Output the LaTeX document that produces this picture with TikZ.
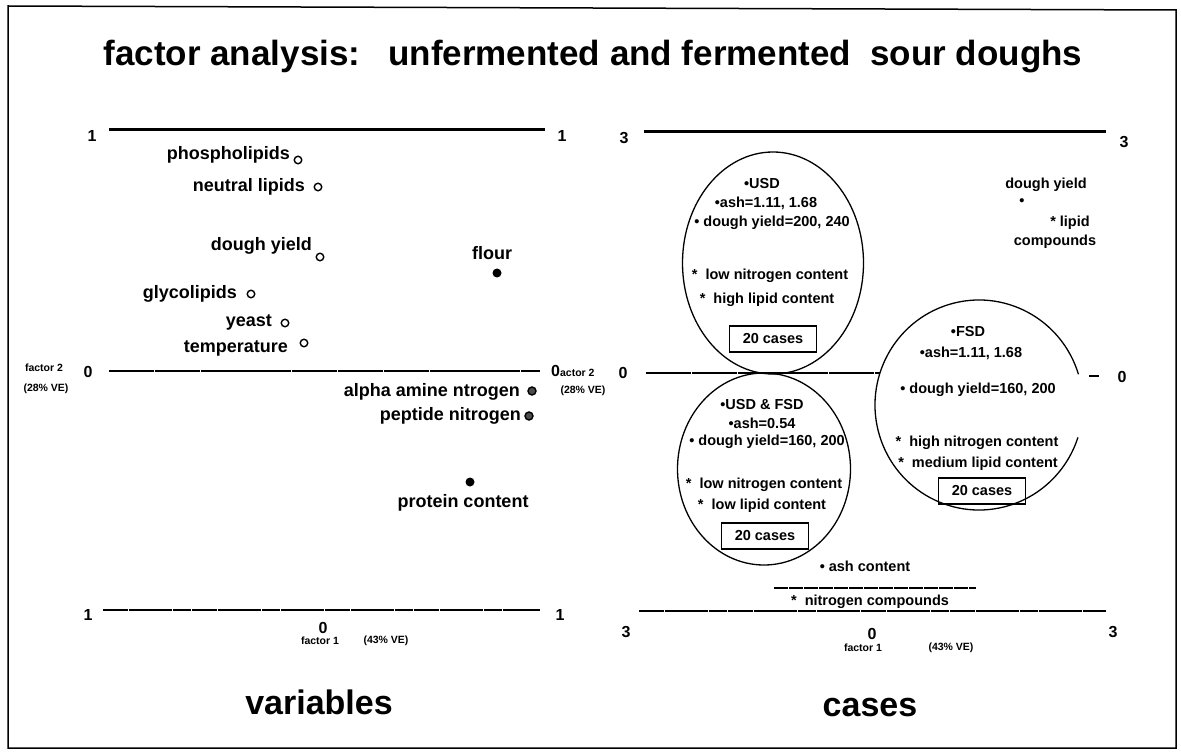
\documentclass[tikz,border=0pt]{standalone}
\usepackage{fontspec}
\setmainfont{Liberation Sans}
\usetikzlibrary{shapes.geometric}
\begin{document}
\begin{tikzpicture}[x=1pt,y=-1pt,
  lbl/.style={font=\fontsize{18}{20}\selectfont\bfseries, inner sep=0pt},
  etxt/.style={font=\fontsize{14.5}{16}\selectfont\bfseries, inner sep=0pt},
  tinylbl/.style={font=\fontsize{10.5}{12}\selectfont\bfseries, inner sep=0pt},
  num/.style={font=\fontsize{16}{18}\selectfont\bfseries, inner sep=0pt},
  bigtxt/.style={font=\fontsize{34}{38}\selectfont\bfseries, inner sep=0pt},
  odot/.style={circle, draw, line width=1.4pt, minimum size=7.5pt, inner sep=0pt},
  fdot/.style={circle, fill, minimum size=9pt, inner sep=0pt},
  rdot/.style={circle, draw, fill=black!70, line width=1.4pt, minimum size=8pt, inner sep=0pt},
  axtop/.style={line width=3pt},
  axmid/.style={line width=2pt, dash pattern=on 45pt off 0.8pt},
  axlow/.style={line width=1.8pt, dash pattern=on 25pt off 0.8pt on 18pt off 0.6pt},
  oval/.style={ellipse, draw, line width=1.3pt, inner sep=0pt},
  cbox/.style={draw, line width=1.2pt, minimum width=87pt, minimum height=26pt,
               font=\fontsize{14.5}{16}\selectfont\bfseries, inner sep=0pt},
  frameline/.style={line width=1.5pt}
]
\useasboundingbox (0,0) rectangle (1181,754);
% frame
\coordinate (F1) at (8,6);
\coordinate (F2) at (1176,10);
\coordinate (F3) at (1176,748);
\coordinate (F4) at (8,748);
\draw[frameline] (F1) -- (F2) -- (F3) -- (F4) -- cycle;

% title
\node[font=\fontsize{35}{40}\selectfont\bfseries, inner sep=0pt] (title) at (593,57)
  {factor analysis:\hspace{0.8em}unfermented and fermented\hspace{0.55em}sour doughs};

% ===== left panel =====
\coordinate (LT1) at (109,130); \coordinate (LT2) at (545,130);
\coordinate (LM1) at (109,371); \coordinate (LM2) at (540,371);
\coordinate (LB1) at (103,610); \coordinate (LB2) at (540,610);
\draw[axtop] (LT1) -- (LT2);
\draw[axmid] (LM1) -- (LM2);
\draw[axlow] (LB1) -- (LB2);
\node[num] (l1a) at (92,136) {1};
\node[num] (l1b) at (562,136) {1};
\node[num] (l1c) at (88,615) {1};
\node[num] (l1d) at (560,615) {1};
\node[num] (l0a) at (88,372) {0};
\node[tinylbl] (lf2) at (44,368) {factor 2};
\node[tinylbl] (lve2) at (46,389) {(28\% VE)};
\node[num] (l0b) at (323,628) {0};
\node[tinylbl] (lf1) at (320,641) {factor 1};
\node[tinylbl] (lve1) at (386,641) {(43\% VE)};

\node[lbl, anchor=east] (phos) at (290,155) {phospholipids};
\node[odot] (phosD) at (298,160) {};
\node[lbl, anchor=east] (neut) at (305,187) {neutral lipids};
\node[odot] (neutD) at (318,187) {};
\node[lbl, anchor=east] (dyl) at (312,246) {dough yield};
\node[odot] (dylD) at (320,257) {};
\node[lbl] (flour) at (492,253) {flour};
\node[fdot] (flourD) at (497,273) {};
\node[lbl, anchor=east] (glyc) at (237,294) {glycolipids};
\node[odot] (glycD) at (251,294) {};
\node[lbl, anchor=east] (yeast) at (272,322) {yeast};
\node[odot] (yeastD) at (285,323) {};
\node[lbl, anchor=east] (temp) at (288,348) {temperature};
\node[odot] (tempD) at (304,343) {};
\node[lbl, anchor=east] (alpha) at (520,392) {alpha amine ntrogen};
\node[rdot] (alphaD) at (532,391) {};
\node[lbl, anchor=east] (pept) at (521,416) {peptide nitrogen};
\node[rdot] (peptD) at (529,416) {};
\node[fdot] (protD) at (470,482) {};
\node[lbl] (prot) at (463,503) {protein content};
\node[bigtxt] (vars) at (319,702) {variables};

% ===== right panel =====
\coordinate (RT1) at (644,132); \coordinate (RT2) at (1106,132);
\coordinate (RM1) at (646,373); \coordinate (RM2) at (880,373);
\coordinate (RD1) at (1089,376); \coordinate (RD2) at (1099,376);
\coordinate (RB1) at (639,611); \coordinate (RB2) at (1106,611);
\draw[axtop] (RT1) -- (RT2);
\draw[axmid] (RM1) -- (RM2);
\draw[line width=2pt] (RD1) -- (RD2);
\draw[axlow] (RB1) -- (RB2);
\node[num] (r3a) at (624,138) {3};
\node[num] (r3b) at (1124,142) {3};
\node[num] (r3c) at (626,632) {3};
\node[num] (r3d) at (1113,632) {3};
\node[num] (r0a) at (623,373) {0};
\node[num] (r0b) at (1122,377) {0};
\node[num] (r0c) at (872,634) {0};
\node[tinylbl] (rf1) at (863,648) {factor 1};
\node[tinylbl] (rve1) at (951,648) {(43\% VE)};
\node[tinylbl, anchor=west] (rf2) at (551,371) {{\fontsize{16}{18}\selectfont 0}actor 2};
\node[tinylbl] (rve2) at (583,391) {(28\% VE)};

% USD cluster
\node[oval, minimum width=181pt, minimum height=222pt] (usd) at (773,263) {};
\node[etxt] (usd1) at (762,184) {\textbullet USD};
\node[etxt] (usd2) at (766,203) {\textbullet ash=1.11, 1.68};
\node[etxt] (usd3) at (772,223) {\textbullet\ dough yield=200, 240};
\node[etxt] (usd4) at (770,276) {*\ \ low nitrogen content};
\node[etxt] (usd5) at (767,300) {*\ \ high lipid content};
\node[cbox] (usdbox) at (773,339) {20 cases};

% USD & FSD cluster
\node[oval, minimum width=173pt, minimum height=192pt] (both) at (764,469) {};
\node[etxt] (both1) at (762,405) {\textbullet USD \& FSD};
\node[etxt] (both2) at (762,423) {\textbullet ash=0.54};
\node[etxt] (both3) at (767,442) {\textbullet\ dough yield=160, 200};
\node[etxt] (both4) at (764,485) {*\ \ low nitrogen content};
\node[etxt] (both5) at (762,506) {*\ \ low lipid content};
\node[cbox] (bothbox) at (765,536) {20 cases};

% FSD cluster
\coordinate (fsdC) at (979,405);
\draw[line width=1.3pt] (fsdC) ++(17:104pt and 105pt)
  arc[start angle=17, end angle=342, x radius=104pt, y radius=105pt];
\node[etxt] (fsd1) at (968,332) {\textbullet FSD};
\node[etxt] (fsd2) at (971,353) {\textbullet ash=1.11, 1.68};
\node[etxt] (fsd3) at (978,390) {\textbullet\ dough yield=160, 200};
\node[etxt] (fsd4) at (977,443) {*\ \ high nitrogen content};
\node[etxt] (fsd5) at (978,464) {*\ \ medium lipid content};
\node[cbox] (fsdbox) at (982,491) {20 cases};

% variable labels in case space
\node[etxt] (rdy) at (1046,185) {dough yield};
\node[etxt] (rdyD) at (1022,202) {\textbullet};
\node[etxt] (rlip) at (1070,223) {* lipid};
\node[etxt] (rcomp) at (1055,242) {compounds};
\node[etxt] (rash) at (865,566) {\textbullet\ ash content};
\coordinate (SL1) at (774,588); \coordinate (SL2) at (976,588);
\draw[line width=1.2pt, dash pattern=on 14pt off 1pt] (SL1) -- (SL2);
\node[etxt] (rnit) at (870,602) {*\ \ nitrogen compounds};
\node[bigtxt] (cases) at (870,708) {cases};
\end{tikzpicture}
\end{document}
